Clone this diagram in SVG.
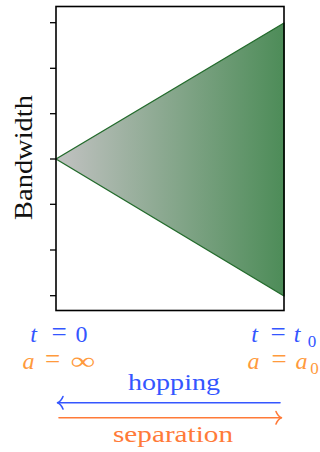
<svg xmlns="http://www.w3.org/2000/svg" width="320" height="452" viewBox="0 0 320 452">
<defs>
<linearGradient id="g" x1="56" y1="0" x2="284" y2="0" gradientUnits="userSpaceOnUse">
<stop offset="0" stop-color="#c2c2c2"/>
<stop offset="1" stop-color="#4d8c58"/>
</linearGradient>
<style>
.m{text-anchor:middle}
.i{font-style:italic}
.blue{fill:#3456ff}
.orange{fill:#ff9a3c}
.tick{stroke:#000;stroke-width:1.3}
</style>
</defs>
<rect width="320" height="452" fill="#fff"/>
<g id="plot">
<polygon points="56,159 284,23 284,296" fill="url(#g)" stroke="#236b2c" stroke-width="1.4" stroke-linejoin="round"/>
<rect x="56" y="6.5" width="228" height="304" fill="none" stroke="#000" stroke-width="1.6"/>
<g class="tick">
<line x1="50" y1="22.7" x2="56" y2="22.7"/>
<line x1="50" y1="68.3" x2="56" y2="68.3"/>
<line x1="50" y1="113.7" x2="56" y2="113.7"/>
<line x1="50" y1="159" x2="56" y2="159"/>
<line x1="50" y1="204.3" x2="56" y2="204.3"/>
<line x1="50" y1="250" x2="56" y2="250"/>
<line x1="50" y1="295.7" x2="56" y2="295.7"/>
</g>
<text font-family="Liberation Serif" font-size="26" text-anchor="middle" textLength="125" lengthAdjust="spacingAndGlyphs" transform="translate(32,157.5) rotate(-90)" fill="#111">Bandwidth</text>
</g>
<g id="label-t0-left" class="blue" font-size="24" font-family="Liberation Serif">
<text class="m i" x="33.5" y="342">t</text>
<text class="m" x="59" y="341" font-size="27">=</text>
<text class="m" x="81.5" y="342">0</text>
</g>
<g id="label-a-left" class="orange" font-size="24" font-family="Liberation Serif">
<text class="m i" x="28.5" y="369">a</text>
<text class="m" x="52.5" y="368" font-size="27">=</text>
<text class="m" transform="translate(83,369) scale(1.45,1)">∞</text>
</g>
<g id="label-t-right" class="blue" font-size="24" font-family="Liberation Serif">
<text class="m i" x="254.5" y="342">t</text>
<text class="m" x="278" y="341" font-size="27">=</text>
<text class="m i" x="297" y="342">t</text>
<text class="m" x="312" y="347" font-size="17">0</text>
</g>
<g id="label-a-right" class="orange" font-size="24" font-family="Liberation Serif">
<text class="m i" x="253.5" y="369">a</text>
<text class="m" x="279" y="368" font-size="27">=</text>
<text class="m i" x="301.5" y="369">a</text>
<text class="m" x="314.5" y="374" font-size="17">0</text>
</g>
<g id="connectors" fill="none" stroke-width="1.6" stroke-linecap="round" stroke-linejoin="round">
<g stroke="#3456ff">
<line x1="280" y1="402.7" x2="58" y2="402.7"/>
<path d="M63,396.5 Q61,401.5 57.5,402.7 Q61,404 63,409"/>
</g>
<g stroke="#ff7a38">
<line x1="59" y1="417.7" x2="281" y2="417.7"/>
<path d="M276,411.5 Q278,416.5 281.5,417.7 Q278,419 276,424"/>
</g>
</g>
<text class="blue" font-family="Liberation Serif" font-size="24" x="174" y="390" text-anchor="middle" textLength="92" lengthAdjust="spacingAndGlyphs">hopping</text>
<text fill="#ff7a38" font-family="Liberation Serif" font-size="24" x="173" y="442" text-anchor="middle" textLength="120" lengthAdjust="spacingAndGlyphs">separation</text>
</svg>
